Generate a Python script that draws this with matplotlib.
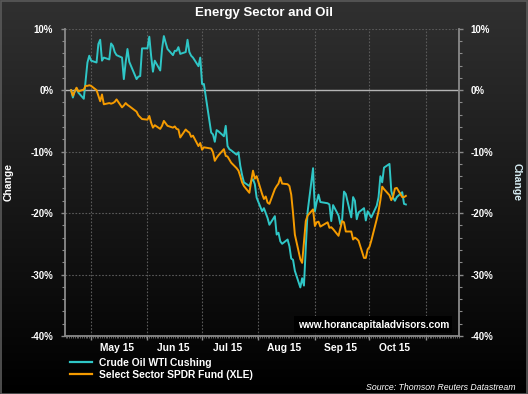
import numpy as np
import pandas as pd
import matplotlib
matplotlib.use("Agg")
import matplotlib.pyplot as plt
import matplotlib.dates as mdates
from matplotlib.ticker import MultipleLocator, FuncFormatter

plt.rcParams['font.family'] = ['Liberation Sans', 'DejaVu Sans']

# ---------------- data ----------------
holidays = ['2015-05-25', '2015-07-03', '2015-09-07']
dates = pd.bdate_range('2015-04-20', '2015-10-21').drop(pd.to_datetime(holidays))

oil = [0.0, -1.2, -0.2, 0.3, -0.4, -1.4, 1.5, 4.5, 5.6,
       4.8, 4.5, 7.5, 8.2, 4.8, 5.3, 5.0, 7.6, 7.2, 6.2, 5.7, 5.3, 1.8, 4.5, 6.7, 4.6, 1.8, 2.2, 2.3, 6.8,
       6.8, 8.7, 5.6, 3.0, 4.8, 3.2, 6.7, 8.8, 7.7, 6.7, 5.7, 6.4, 6.4, 7.0, 5.9, 6.2, 8.2, 6.2, 5.6, 5.3, 3.9, 5.3,
       1.0, 1.0, -6.9, -7.2, -8.4, -6.5, -6.7, -7.5, -5.8, -9.1, -9.6, -9.8, -10.5, -10.1, -12.3, -13.8, -15.0,
       -15.6, -14.8, -14.5, -15.3, -17.5,
       -19.7, -19.2, -20.0, -20.8, -21.9, -20.5, -23.5, -23.2, -24.6, -25.0, -24.3, -25.4, -27.4, -27.6, -29.4,
       -32.1, -30.6, -31.8, -25.6, -19.8, -12.7,
       -19.7, -18.2, -17.0, -18.2, -18.4, -18.6, -21.3, -18.7, -20.4, -21.8, -21.0, -16.5, -16.9, -20.7, -17.4,
       -18.0, -21.0, -19.9, -19.2, -21.2, -19.7,
       -20.2, -20.7, -18.8, -17.4, -14.0, -15.0, -12.6, -12.0, -16.4, -17.5, -18.0, -17.4, -16.6, -18.5, -18.6]

xle = [0.0, -0.9, -0.2, 0.4, -0.2, 0.1, 0.7, 0.7, 0.8,
       0.7, 0.0, -0.9, -1.8, -0.7, -2.3, -2.1, -2.2, -2.1, -1.9, -1.5, -2.8, -2.5, -2.1, -2.4, -2.6, -3.5, -4.1,
       -4.4, -4.7,
       -4.8, -4.2, -5.3, -6.1, -5.7, -6.3, -5.8, -5.0, -5.4, -5.8, -6.1, -5.9, -6.3, -6.4, -7.7, -6.4, -6.7, -6.9,
       -7.6, -7.4, -9.1, -8.6,
       -9.7, -9.3, -9.5, -10.1, -11.5, -11.0, -10.6, -9.6, -10.7, -10.8, -11.3, -11.8, -12.7, -13.1, -14.0, -15.0,
       -15.6, -16.7, -14.8, -13.1, -14.4, -14.0,
       -16.9, -17.7, -17.3, -18.3, -18.5, -16.1, -15.6, -15.2, -14.2, -15.2, -15.3, -15.6, -17.0, -20.0, -23.5,
       -27.5, -28.1, -24.6, -21.3, -20.4, -19.4,
       -22.1, -21.5, -21.4, -22.2, -21.5, -22.4, -22.3, -22.6, -23.7, -22.5, -21.3, -21.5, -23.0, -23.0, -24.3,
       -24.0, -24.2, -24.5, -27.3, -27.3, -25.9,
       -25.5, -24.5, -21.0, -19.7, -17.9, -15.7, -16.1, -17.1, -17.9, -17.3, -16.0, -15.9, -17.4, -17.4, -17.2]

labels = ['Crude Oil WTI Cushing', 'Select Sector SPDR Fund (XLE)']
month_labels = ['May 15', 'Jun 15', 'Jul 15', 'Aug 15', 'Sep 15', 'Oct 15']
title = 'Energy Sector and Oil'

CYAN = '#2fc6c6'
ORANGE = '#f59b00'

# ---------------- figure ----------------
W, H = 528, 394
fig = plt.figure(figsize=(W / 100, H / 100), dpi=100)

bg = fig.add_axes([0, 0, 1, 1], zorder=-10)
grad = np.linspace(0, 1, 256).reshape(-1, 1)
top_c = np.array([0.19, 0.19, 0.19])
bot_c = np.array([0.0, 0.0, 0.0])
img = top_c[None, None, :] * (1 - grad[:, :, None]) + bot_c[None, None, :] * grad[:, :, None]
bg.imshow(img, aspect='auto', extent=[0, 1, 0, 1])
bg.set_xlim(0, 1); bg.set_ylim(0, 1)
bg.axis('off')
bg.add_patch(plt.Rectangle((0.001, 0.001), 0.998, 0.997, fill=False, edgecolor='#5a5a5a', lw=1.2,
                           transform=bg.transAxes))

L, R, T, B = 65, 459, 28.7, 336
ax = fig.add_axes([L / W, 1 - B / H, (R - L) / W, (B - T) / H])
ax.set_facecolor('none')

ax.plot(dates, oil, color=CYAN, lw=1.4, label=labels[0], zorder=3)
ax.plot(dates, xle, color=ORANGE, lw=1.4, label=labels[1], zorder=3)

ax.set_ylim(-40, 10)
ax.set_xlim(pd.Timestamp('2015-04-16 16:00'), pd.Timestamp('2015-11-19 05:00'))

pct = FuncFormatter(lambda v, p: f'{int(round(v))}%')
ax.yaxis.set_major_locator(MultipleLocator(10))
ax.yaxis.set_minor_locator(MultipleLocator(2))
ax.yaxis.set_major_formatter(pct)

ax.xaxis.set_major_locator(mdates.MonthLocator())
ax.xaxis.set_minor_locator(mdates.DayLocator())
ax.xaxis.set_major_formatter(plt.NullFormatter())

ax.grid(True, which='major', axis='both', color='#5a5a5a', ls=(0, (1.5, 1.5)), lw=0.8)
ax.axhline(0, color='#b4b4b4', lw=1.0, zorder=2)

for s in ['left', 'right', 'bottom']:
    ax.spines[s].set_color('#8a8a8a')
    ax.spines[s].set_linewidth(1.3)
ax.spines['top'].set_visible(False)

ax.tick_params(axis='y', which='major', length=3, width=1, color='#8a8a8a', labelcolor='white',
               labelsize=7, pad=5.5)
ax.tick_params(axis='y', which='minor', length=2, width=0.8, color='#8a8a8a')
ax.tick_params(axis='x', which='major', length=3, width=1, color='#8a8a8a')
ax.tick_params(axis='x', which='minor', length=1.5, width=0.5, color='#8a8a8a')
for t in ax.get_yticklabels():
    t.set_fontweight('bold')

ax2 = ax.twinx()
ax2.set_ylim(ax.get_ylim())
ax2.yaxis.set_major_locator(MultipleLocator(10))
ax2.yaxis.set_minor_locator(MultipleLocator(2))
ax2.yaxis.set_major_formatter(pct)
for s in ax2.spines.values():
    s.set_visible(False)
ax2.tick_params(axis='y', which='major', length=3, width=1, color='#8a8a8a', labelcolor='white',
                labelsize=7, pad=5.5)
ax2.tick_params(axis='y', which='minor', length=2, width=0.8, color='#8a8a8a')
for t in ax2.get_yticklabels():
    t.set_fontweight('bold')

# month labels at mid-month
sec = ax.secondary_xaxis('bottom')
mid = pd.date_range('2015-05-01', periods=len(month_labels), freq='MS') + pd.Timedelta(days=14)
sec.set_xticks(mid)
sec.set_xticklabels(month_labels, fontsize=7.4, fontweight='bold', color='white')
sec.tick_params(length=0, pad=5)
sec.spines['bottom'].set_visible(False)

ax.set_ylabel('Change', color='white', fontsize=7.5, fontweight='bold', va='center')
ax.yaxis.set_label_coords((8.5 - L) / (R - L), 0.5)
ax2.set_ylabel('Change', color='#d8eef4', fontsize=7.5, fontweight='bold', rotation=270, va='center')
ax2.yaxis.set_label_coords((517 - L) / (R - L), 0.5)

fig.text(0.5, 1 - 13 / H, title, ha='center', va='center', color='white', fontsize=9.5, fontweight='bold')

ax.text(0.9746, 0.036, 'www.horancapitaladvisors.com', transform=ax.transAxes, ha='right', va='center',
        color='white', fontsize=7.3, fontweight='bold', zorder=5,
        bbox=dict(facecolor='black', edgecolor='none', pad=2.5))

leg = fig.legend(loc='upper left', bbox_to_anchor=(70 / W, 1 - 358 / H), frameon=False,
                 handlelength=2.1, handletextpad=0.75, labelspacing=0.15, borderpad=0, borderaxespad=0,
                 prop={'size': 7.4, 'weight': 'bold'})
for t in leg.get_texts():
    t.set_color('white')
for h in leg.get_lines():
    h.set_linewidth(1.6)

fig.text(515 / W, 1 - 387 / H, 'Source: Thomson Reuters Datastream', ha='right', va='center',
         color='white', fontsize=6.3, style='italic')

fig.savefig('out.png', dpi=100)
